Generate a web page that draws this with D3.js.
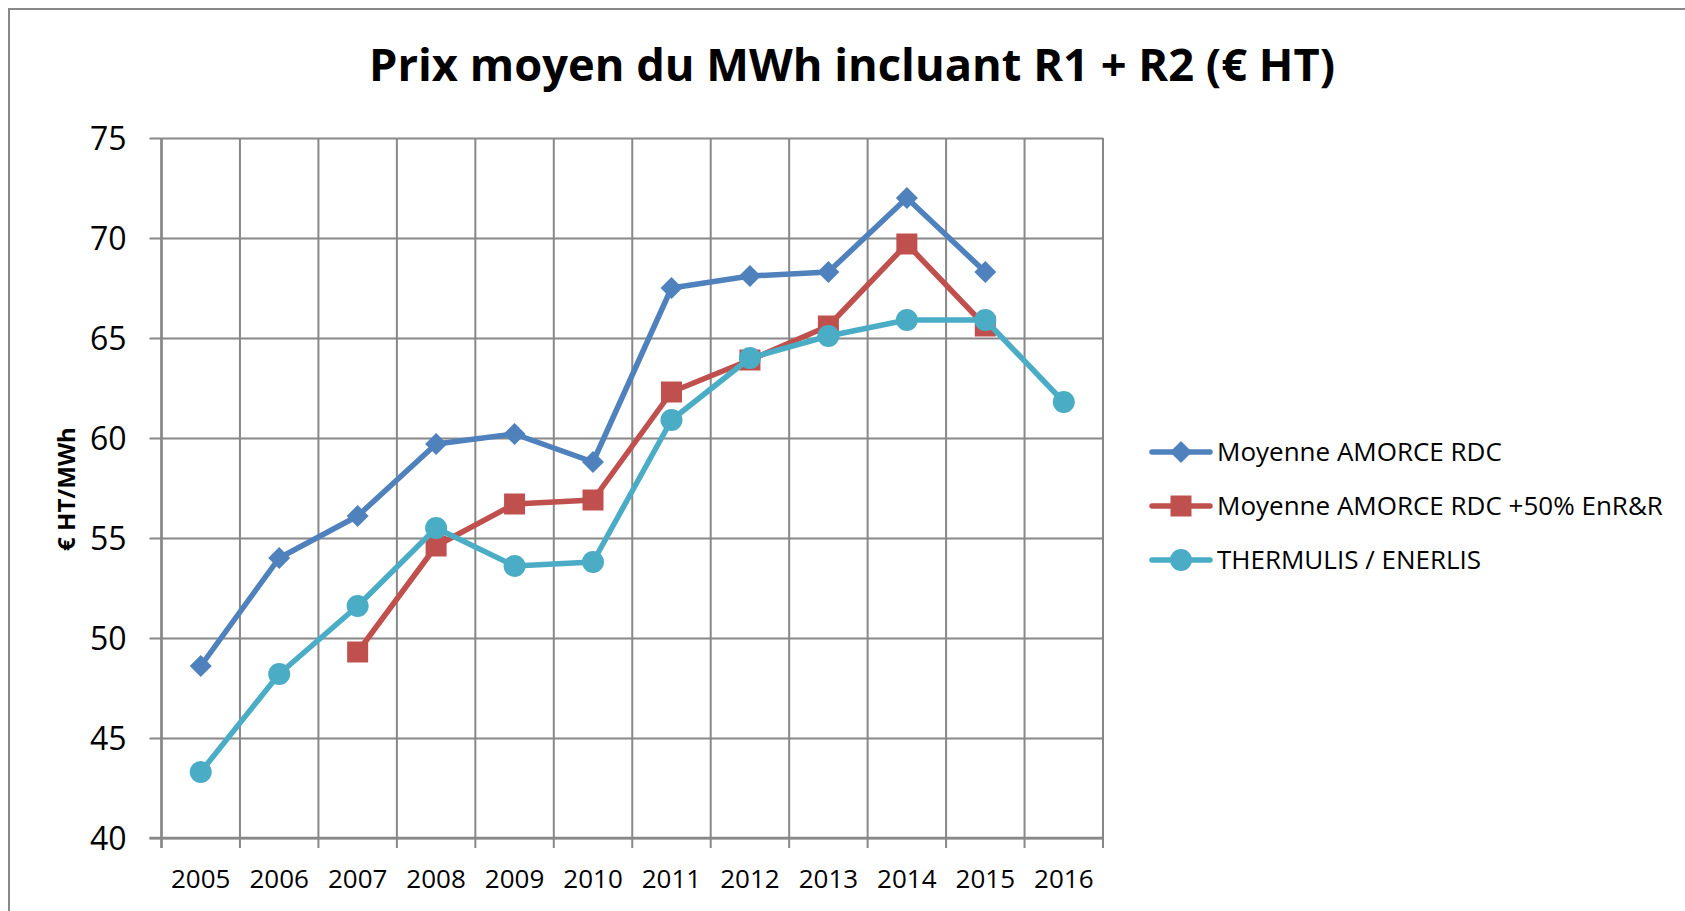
<!DOCTYPE html>
<html>
<head>
<meta charset="utf-8">
<script src="https://cdn.jsdelivr.net/npm/d3@7"></script>
<style>
  html, body { margin: 0; padding: 0; background: #fff; }
  svg { display: block; font-family: "Open Sans", sans-serif; }
</style>
</head>
<body>
<div id="chart"></div>
<script>
// Data
const years = ["2005", "2006", "2007", "2008", "2009", "2010", "2011", "2012", "2013", "2014", "2015", "2016"];
const amorce = [48.6, 54.0, 56.1, 59.7, 60.2, 58.8, 67.5, 68.1, 68.3, 72.0, 68.3, null];
const amorceEnr = [null, null, 49.3, 54.6, 56.7, 56.9, 62.3, 63.9, 65.6, 69.7, 65.6, null];
const thermulis = [43.3, 48.2, 51.6, 55.5, 53.6, 53.8, 60.9, 64.0, 65.1, 65.9, 65.9, 61.8];
const yTicks = [40, 45, 50, 55, 60, 65, 70, 75];

const seriesNames = ["Moyenne AMORCE RDC", "Moyenne AMORCE RDC +50% EnR&R", "THERMULIS / ENERLIS"];
const seriesColors = ["#4F81BD", "#C0504D", "#4BACC6"];
const seriesShapes = ["diamond", "square", "circle"];

const W = 1685, H = 911;
const plot = { left: 161.5, right: 1103, top: 138, bottom: 838 };
const GRID = "#888888";

const svg = d3.select("#chart").append("svg")
  .attr("width", W)
  .attr("height", H);

svg.append("rect").attr("width", W).attr("height", H).attr("fill", "#fff");

// chart frame
svg.append("rect")
  .attr("x", 9).attr("y", 9)
  .attr("width", W + 20).attr("height", H + 20)
  .attr("fill", "none")
  .attr("stroke", GRID)
  .attr("stroke-width", 2);

// title
svg.append("text")
  .attr("x", 852).attr("y", 81)
  .attr("text-anchor", "middle")
  .attr("font-size", 44)
  .attr("font-weight", "bold")
  .attr("fill", "#000")
  .attr("textLength", 966)
  .attr("lengthAdjust", "spacingAndGlyphs")
  .text("Prix moyen du MWh incluant R1 + R2 (€ HT)");

const x = d3.scaleBand().domain(years).range([plot.left, plot.right]);
const y = d3.scaleLinear().domain([40, 75]).range([plot.bottom, plot.top]);
const cx = d => x(d) + x.bandwidth() / 2;

// horizontal grid + y ticks
const yAxis = svg.append("g")
  .attr("transform", `translate(${plot.left},0)`)
  .call(d3.axisLeft(y).tickValues(yTicks)
    .tickSize(-(plot.right - plot.left)).tickSizeOuter(0).tickPadding(35));
yAxis.select(".domain").remove();
yAxis.selectAll(".tick line")
  .attr("x1", -12)
  .attr("stroke", GRID).attr("stroke-width", 2);
yAxis.selectAll(".tick text")
  .attr("font-family", "Open Sans")
  .attr("font-size", 32)
  .attr("fill", "#000")
  .attr("dy", "0.36em");

// vertical grid at category boundaries
const bounds = years.map(d => x(d)).concat([plot.right]);
svg.append("g").selectAll("line")
  .data(bounds)
  .join("line")
  .attr("x1", d => d).attr("x2", d => d)
  .attr("y1", plot.top).attr("y2", plot.bottom + 10)
  .attr("stroke", GRID).attr("stroke-width", 2);

// axis lines
svg.append("line")
  .attr("x1", plot.left - 12).attr("x2", plot.right)
  .attr("y1", plot.bottom).attr("y2", plot.bottom)
  .attr("stroke", GRID).attr("stroke-width", 2.5);
svg.append("line")
  .attr("x1", plot.left).attr("x2", plot.left)
  .attr("y1", plot.top).attr("y2", plot.bottom + 10)
  .attr("stroke", GRID).attr("stroke-width", 2.5);

// x labels
svg.append("g").selectAll("text")
  .data(years)
  .join("text")
  .attr("x", d => cx(d))
  .attr("y", 888)
  .attr("text-anchor", "middle")
  .attr("font-size", 26)
  .attr("fill", "#000")
  .text(d => d);

// y axis title
svg.append("text")
  .attr("transform", "translate(75,489) rotate(-90)")
  .attr("text-anchor", "middle")
  .attr("font-size", 24)
  .attr("font-weight", "bold")
  .attr("fill", "#000")
  .text("€ HT/MWh");

function drawMarker(g, shape, color, px, py) {
  if (shape === "diamond") {
    g.append("path")
      .attr("d", `M${px},${py - 11}L${px + 11},${py}L${px},${py + 11}L${px - 11},${py}Z`)
      .attr("fill", color);
  } else if (shape === "square") {
    g.append("rect")
      .attr("x", px - 10.5).attr("y", py - 10.5)
      .attr("width", 21).attr("height", 21)
      .attr("fill", color);
  } else {
    g.append("circle")
      .attr("cx", px).attr("cy", py).attr("r", 11)
      .attr("fill", color);
  }
}

const allSeries = [amorce, amorceEnr, thermulis];

allSeries.forEach((vals, si) => {
  const pts = years.map((yr, i) => ({ yr, v: vals[i] }));
  const line = d3.line()
    .defined(d => d.v !== null)
    .x(d => cx(d.yr))
    .y(d => y(d.v));
  const g = svg.append("g");
  g.append("path")
    .datum(pts)
    .attr("d", line)
    .attr("fill", "none")
    .attr("stroke", seriesColors[si])
    .attr("stroke-width", 5.5)
    .attr("stroke-linejoin", "round");
  pts.filter(d => d.v !== null).forEach(d => {
    drawMarker(g, seriesShapes[si], seriesColors[si], cx(d.yr), y(d.v));
  });
});

// legend
const legendY = [452, 506, 560];
seriesNames.forEach((name, i) => {
  const g = svg.append("g");
  g.append("line")
    .attr("x1", 1152).attr("x2", 1210)
    .attr("y1", legendY[i]).attr("y2", legendY[i])
    .attr("stroke", seriesColors[i])
    .attr("stroke-width", 5.5)
    .attr("stroke-linecap", "round");
  drawMarker(g, seriesShapes[i], seriesColors[i], 1181, legendY[i]);
  g.append("text")
    .attr("x", 1217).attr("y", legendY[i] + 9)
    .attr("font-size", 26)
    .attr("fill", "#000")
    .text(name);
});
</script>
</body>
</html>
